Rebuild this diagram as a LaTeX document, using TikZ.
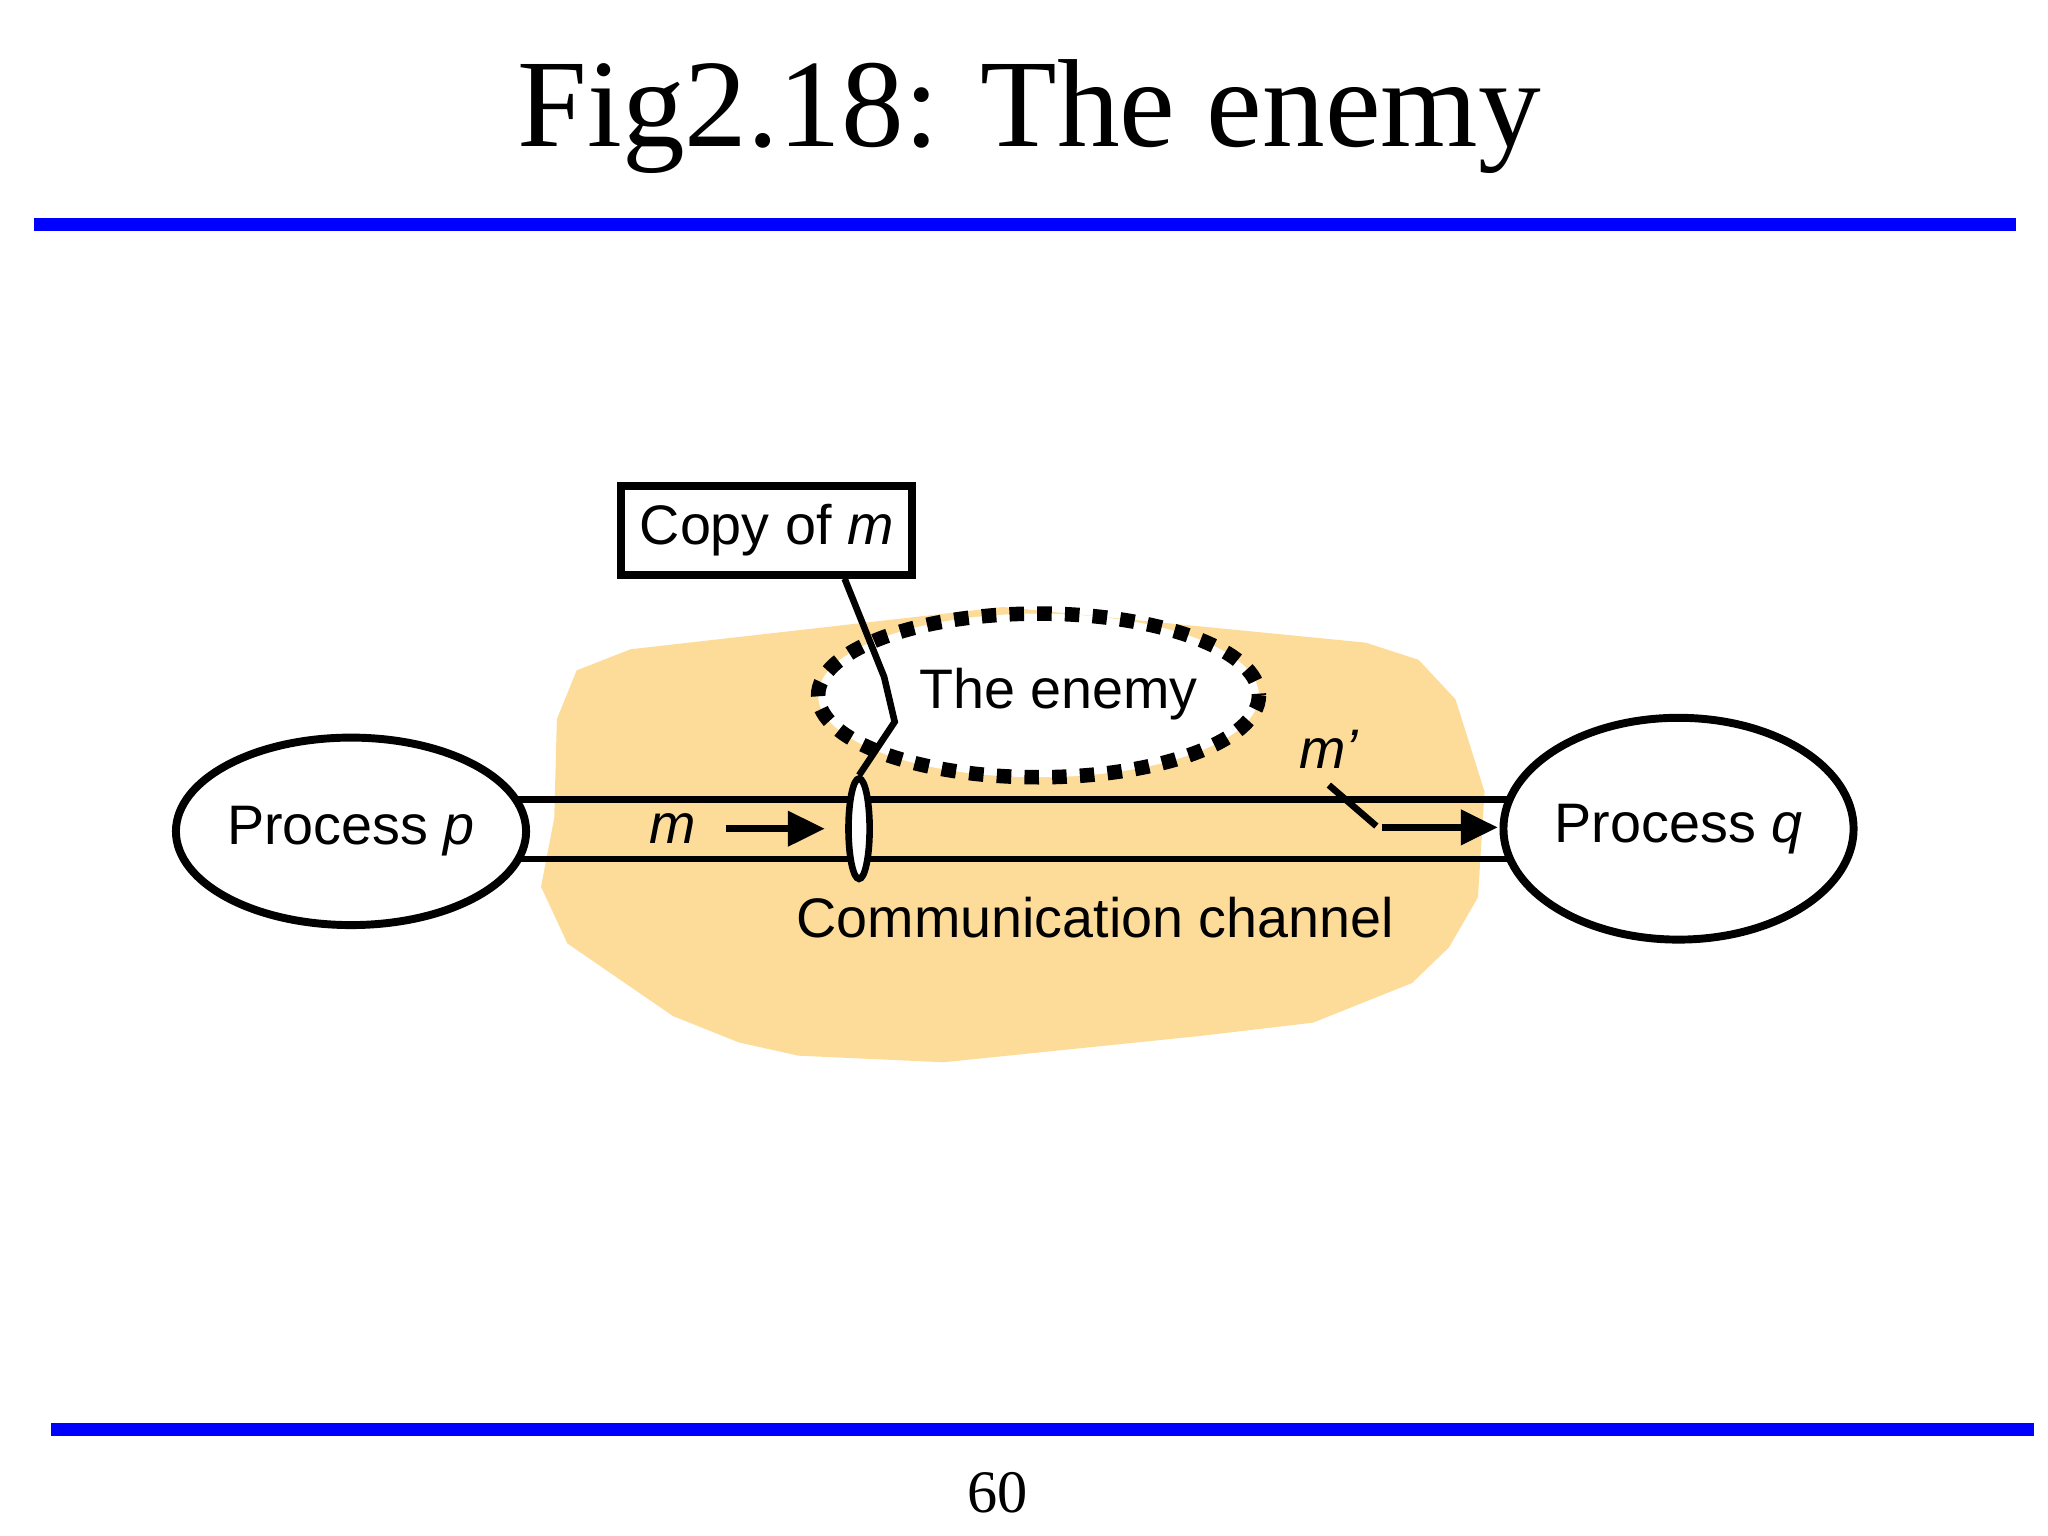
\documentclass[tikz,border=0pt]{standalone}
\usepackage{fontspec}
\setmainfont{Liberation Serif}
\newfontfamily\sansf{Liberation Sans}
\usetikzlibrary{arrows.meta}
\usetikzlibrary{shapes.geometric}
\definecolor{blob}{HTML}{FDDC9A}
\definecolor{rule}{HTML}{0000FF}
\tikzset{
  proc/.style={draw, ellipse, line width=0.06cm, font=\sansf\fontsize{12}{14}\selectfont},
  lbl/.style={font=\sansf\fontsize{12}{14}\selectfont},
  wire/.style={line width=0.05cm},
  msg/.style={line width=0.05cm, -{Triangle[length=0.28cm,width=0.26cm]}}
}
\begin{document}
\begin{tikzpicture}[x=0.01cm, y=-0.01cm]
        \useasboundingbox (0,0) rectangle (1552,1164);
        \node at (780,88) {\fontsize{27}{32}\selectfont Fig2.18: The enemy};
        \fill [rule] (26,165) rectangle (1528,175);
        \fill [rule] (39,1078) rectangle (1541,1088);
        \node at (756,1131) {\fontsize{13}{16}\selectfont 60};
        \fill [blob] (478,492) -- (760,460) -- (1035,487) -- (1075,500) -- (1103,530) -- (1125,600) -- (1120,680) -- (1098,718) -- (1070,745) -- (995,775) -- (910,785) -- (715,805) -- (605,800) -- (560,790) -- (510,770) -- (430,715) -- (410,672) -- (420,620) -- (422,545) -- (437,508) -- cycle;
        % channel
        \draw [wire] (380,606) -- (1158,606);
        \draw [wire] (380,651) -- (1158,651);
        \node (p) [proc, fill=white, inner sep=0pt, minimum width=2.36cm, minimum height=1.42cm] at (266,630) {Process \textit{p}};
        \node (q) [proc, fill=white, inner sep=0pt, minimum width=2.44cm, minimum height=1.68cm] at (1272,628) {Process \textit{q}};
        \node (chan) [lbl] at (830,695) {Communication channel};
        % enemy
        \draw [line width=0.11cm, dash pattern=on 0.11cm off 0.1cm, fill=white] (787,527) ellipse (167 and 62);
        \node (enemy) [lbl] at (802,526) {The enemy};
        \node (copy) [lbl, draw, line width=0.06cm, minimum width=2.2cm, minimum height=0.67cm] at (581,402) {Copy of \textit{m}};
        \node (tap) [draw, ellipse, line width=0.05cm, fill=white, minimum width=0.16cm, minimum height=0.76cm, inner sep=0pt] at (651,628) {};
        \coordinate (k1) at (670,513);
        \coordinate (k2) at (678,547);
        \draw [wire] (copy.south east) ++(-54,0) -- (k1) -- (k2) -- (tap.north);
        % messages
        \node (m) [lbl] at (510,628) {\textit{m}};
        \coordinate (ma) at (625,628);
        \draw [msg] (m.east) ++(10,0) -- (ma);
        \node (m2) [lbl] at (1007,568) {\textit{m’}};
        \coordinate (mb) at (1043,626);
        \coordinate (mc) at (1047,627);
        \coordinate (md) at (1135,627);
        \draw [wire] (m2.south) -- (mb);
        \draw [msg] (mc) -- (md);
\end{tikzpicture}
\end{document}
